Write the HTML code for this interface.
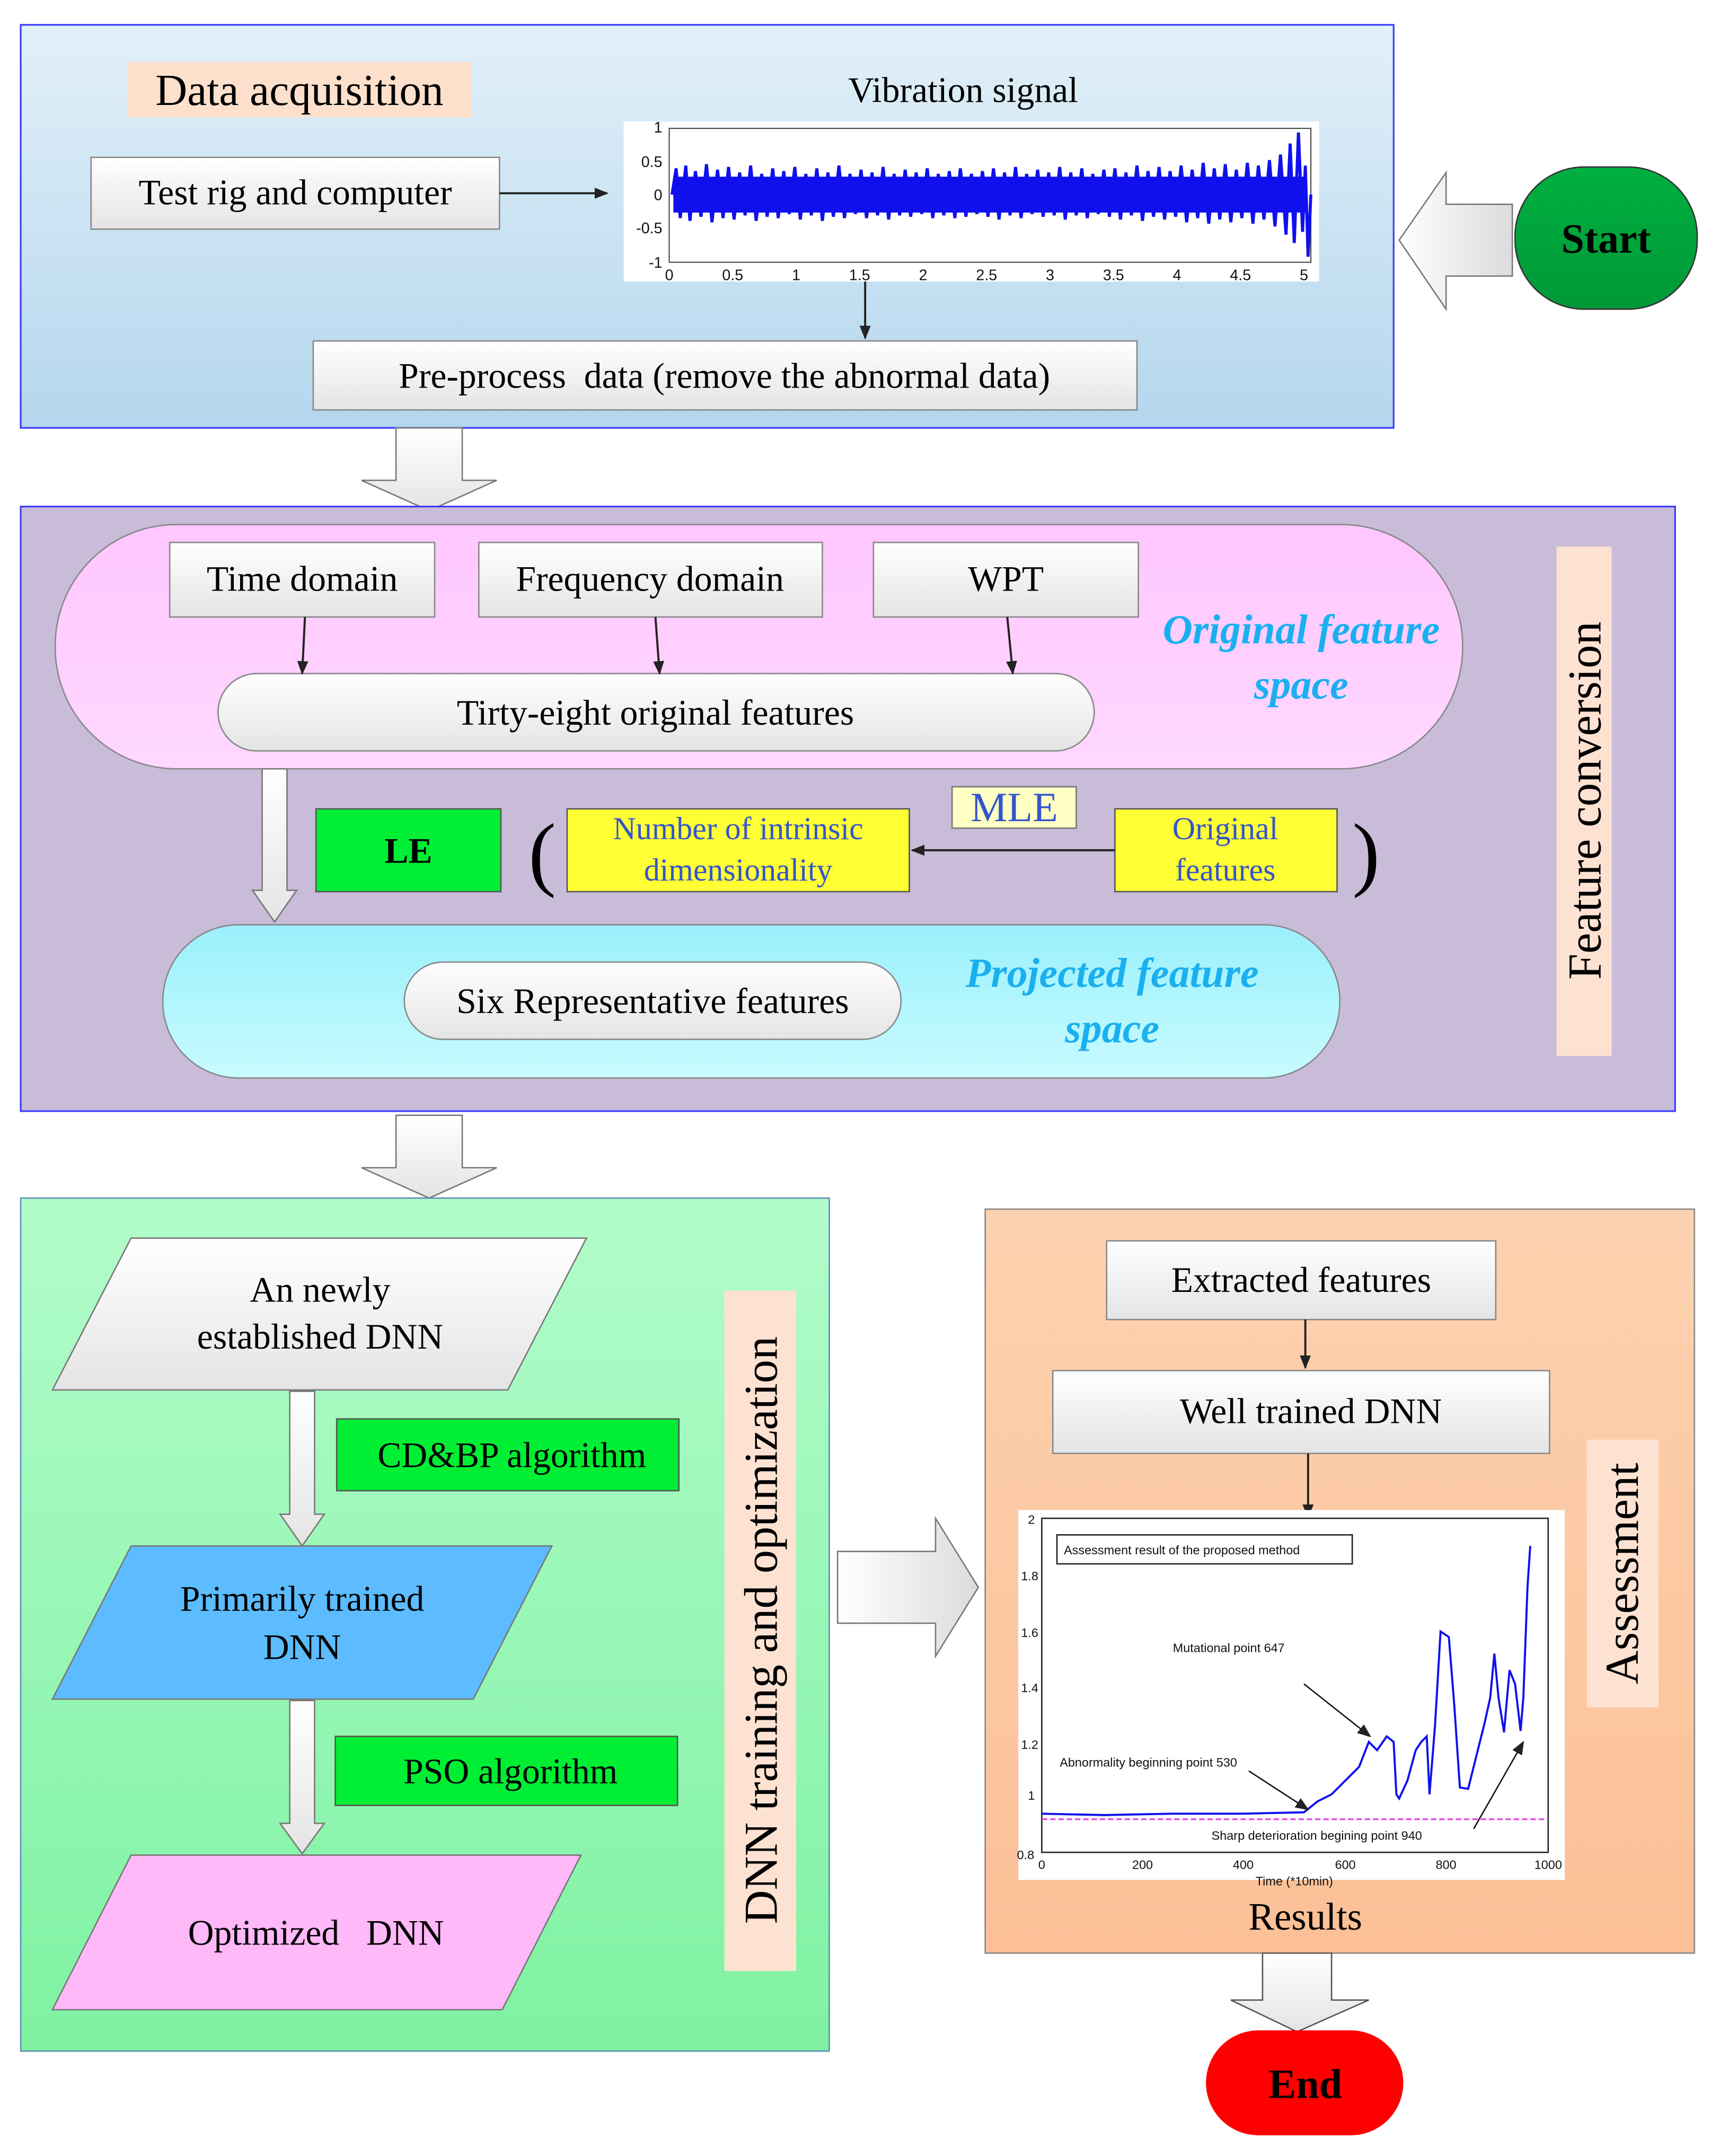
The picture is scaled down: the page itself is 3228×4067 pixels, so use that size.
<!DOCTYPE html>
<html><head><meta charset="utf-8"><style>html,body{margin:0;padding:0;background:#fff}svg{display:block}</style></head>
<body>
<svg width="3228" height="4067" viewBox="0 0 1240 1562" preserveAspectRatio="none" xmlns="http://www.w3.org/2000/svg" font-family="'Liberation Serif', serif">
<defs>
<linearGradient id="gb" x1="0" y1="0" x2="0" y2="1"><stop offset="0" stop-color="#e2f0f8"/><stop offset="1" stop-color="#b4d6ee"/></linearGradient>
<linearGradient id="gw" x1="0" y1="0" x2="0" y2="1"><stop offset="0" stop-color="#ffffff"/><stop offset="1" stop-color="#e4e4e4"/></linearGradient>
<linearGradient id="gp" x1="0" y1="0" x2="0" y2="1"><stop offset="0" stop-color="#ffc6ff"/><stop offset="1" stop-color="#ffd8ff"/></linearGradient>
<linearGradient id="gc" x1="0" y1="0" x2="0" y2="1"><stop offset="0" stop-color="#9af0fc"/><stop offset="1" stop-color="#c8fbff"/></linearGradient>
<linearGradient id="gg" x1="0" y1="0" x2="0" y2="1"><stop offset="0" stop-color="#b2fcca"/><stop offset="1" stop-color="#7ff2a2"/></linearGradient>
<linearGradient id="go" x1="0" y1="0" x2="0" y2="1"><stop offset="0" stop-color="#fdd2b0"/><stop offset="1" stop-color="#fbc096"/></linearGradient>
<linearGradient id="ga" x1="0" y1="0" x2="1" y2="0"><stop offset="0" stop-color="#ffffff"/><stop offset="1" stop-color="#dcdcdc"/></linearGradient>
<linearGradient id="gs" x1="0" y1="0" x2="0" y2="1"><stop offset="0" stop-color="#00b040"/><stop offset="1" stop-color="#009838"/></linearGradient>
<marker id="ah" markerWidth="10" markerHeight="10" refX="9" refY="5" orient="auto" markerUnits="userSpaceOnUse"><path d="M0,1 L10,5 L0,9 z" fill="#222"/></marker>
</defs>

<!-- Panel 1 -->
<rect x="15" y="18" width="995" height="292" fill="url(#gb)" stroke="#3a3aff" stroke-width="1.2"/>
<rect x="92" y="45" width="250" height="40" fill="#fde0cc"/>
<text x="217" y="76" font-size="32" text-anchor="middle">Data acquisition</text>
<rect x="66" y="114" width="296" height="52" fill="url(#gw)" stroke="#888"/>
<text x="214" y="148" font-size="26" text-anchor="middle">Test rig and computer</text>
<line x1="362" y1="140" x2="440" y2="140" stroke="#222" stroke-width="1.5" marker-end="url(#ah)"/>
<text x="698" y="74" font-size="26" text-anchor="middle">Vibration signal</text>
<rect x="452" y="88" width="504" height="116" fill="#fff"/>
<rect x="485" y="93" width="465" height="97" fill="none" stroke="#444" stroke-width="0.8"/>
<g font-family="'Liberation Sans',sans-serif" font-size="11" fill="#111">
<text x="480" y="96" text-anchor="end">1</text><text x="480" y="121" text-anchor="end">0.5</text><text x="480" y="145" text-anchor="end">0</text><text x="480" y="169" text-anchor="end">-0.5</text><text x="480" y="194" text-anchor="end">-1</text>
<text x="485" y="203" text-anchor="middle">0</text><text x="531" y="203" text-anchor="middle">0.5</text><text x="577" y="203" text-anchor="middle">1</text><text x="623" y="203" text-anchor="middle">1.5</text><text x="669" y="203" text-anchor="middle">2</text><text x="715" y="203" text-anchor="middle">2.5</text><text x="761" y="203" text-anchor="middle">3</text><text x="807" y="203" text-anchor="middle">3.5</text><text x="853" y="203" text-anchor="middle">4</text><text x="899" y="203" text-anchor="middle">4.5</text><text x="945" y="203" text-anchor="middle">5</text>
</g>
<path d="M487,141 L490,122 493,158 497,120 500,160 504,124 508,157 512,119 516,161 520,123 524,158 528,121 532,159 536,125 540,156 544,120 548,160 552,126 556,157 560,122 564,158 568,124 572,155 576,121 580,159 584,126 588,156 592,122 596,160 600,125 604,157 608,120 612,158 616,126 620,155 624,123 628,158 632,125 636,156 640,121 644,159 648,126 652,156 656,123 660,157 664,125 668,155 672,122 676,158 680,126 684,156 688,124 692,158 696,122 700,157 704,126 708,155 712,124 716,157 720,122 724,159 728,125 732,156 736,121 740,158 744,126 748,155 752,123 756,157 760,125 764,156 768,121 772,159 776,125 780,156 784,122 788,158 792,126 796,155 800,123 804,157 808,122 812,159 816,125 820,156 824,120 828,160 832,124 836,157 840,121 844,159 848,124 852,157 856,120 860,161 864,123 868,158 872,118 876,162 880,122 884,159 888,119 892,161 896,123 900,158 904,118 908,162 912,120 916,159 920,116 924,164 928,112 932,170 935,104 938,176 941,96 944,168 946,120 948,186 950,141" fill="none" stroke="#1010ee" stroke-width="2.2"/>
<rect x="488" y="128" width="458" height="26" fill="#1010ee"/>
<line x1="627" y1="204" x2="627" y2="245" stroke="#222" stroke-width="1.5" marker-end="url(#ah)"/>
<rect x="227" y="247" width="597" height="50" fill="url(#gw)" stroke="#888"/>
<text x="525" y="281" font-size="26" text-anchor="middle" xml:space="preserve">Pre-process  data (remove the abnormal data)</text>

<!-- Start -->
<rect x="1098" y="121" width="132" height="103" rx="50" fill="url(#gs)" stroke="#333"/>
<text x="1164" y="183" font-size="30" font-weight="bold" text-anchor="middle">Start</text>
<path d="M1096,148 L1048,148 L1048,125 L1014,174 L1048,224 L1048,200 L1096,200 z" fill="url(#ga)" stroke="#777"/>

<path d="M287,310 L335,310 L335,348 L360,348 L311,370 L262,348 L287,348 z" fill="url(#gw)" stroke="#777"/>

<!-- Panel 2 -->
<rect x="15" y="367" width="1199" height="438" fill="#c8bcd8" stroke="#3a3aff" stroke-width="1.2"/>
<rect x="40" y="380" width="1020" height="177" rx="88" fill="url(#gp)" stroke="#888"/>
<rect x="123" y="393" width="192" height="54" fill="url(#gw)" stroke="#888"/>
<text x="219" y="428" font-size="26" text-anchor="middle">Time domain</text>
<rect x="347" y="393" width="249" height="54" fill="url(#gw)" stroke="#888"/>
<text x="471" y="428" font-size="26" text-anchor="middle">Frequency domain</text>
<rect x="633" y="393" width="192" height="54" fill="url(#gw)" stroke="#888"/>
<text x="729" y="428" font-size="26" text-anchor="middle">WPT</text>
<rect x="158" y="488" width="635" height="56" rx="28" fill="url(#gw)" stroke="#888"/>
<text x="475" y="525" font-size="26" text-anchor="middle">Tirty-eight original features</text>
<line x1="221" y1="447" x2="219" y2="488" stroke="#222" stroke-width="1.5" marker-end="url(#ah)"/>
<line x1="475" y1="447" x2="478" y2="488" stroke="#222" stroke-width="1.5" marker-end="url(#ah)"/>
<line x1="730" y1="447" x2="734" y2="488" stroke="#222" stroke-width="1.5" marker-end="url(#ah)"/>
<rect x="1128" y="396" width="40" height="369" fill="#fde2d2"/>
<text transform="translate(1160,580) rotate(-90)" font-size="34" text-anchor="middle">Feature conversion</text>
<path d="M190,557 L208,557 L208,645 L215,645 L199,668 L183,645 L190,645 z" fill="url(#gw)" stroke="#777"/>
<rect x="229" y="586" width="134" height="60" fill="#00ee33" stroke="#555"/>
<text x="296" y="625" font-size="26" font-weight="bold" text-anchor="middle">LE</text>
<text x="393" y="638" font-size="60" text-anchor="middle">(</text>
<text x="990" y="638" font-size="60" text-anchor="middle">)</text>
<rect x="411" y="586" width="248" height="60" fill="#ffff33" stroke="#555"/>
<text x="535" y="608" font-size="23" fill="#3355cc" text-anchor="middle">Number of intrinsic</text>
<text x="535" y="638" font-size="23" fill="#3355cc" text-anchor="middle">dimensionality</text>
<rect x="690" y="570" width="90" height="30" fill="#ffffc4" stroke="#777"/>
<text x="735" y="595" font-size="30" fill="#3355cc" text-anchor="middle">MLE</text>
<rect x="808" y="586" width="161" height="60" fill="#ffff33" stroke="#555"/>
<text x="888" y="608" font-size="23" fill="#3355cc" text-anchor="middle">Original</text>
<text x="888" y="638" font-size="23" fill="#3355cc" text-anchor="middle">features</text>
<line x1="808" y1="616" x2="661" y2="616" stroke="#222" stroke-width="1.5" marker-end="url(#ah)"/>
<rect x="118" y="670" width="853" height="111" rx="55" fill="url(#gc)" stroke="#888"/>
<rect x="293" y="697" width="360" height="56" rx="28" fill="url(#gw)" stroke="#888"/>
<text x="473" y="734" font-size="26" text-anchor="middle">Six Representative features</text>
<g font-size="30" font-weight="bold" font-style="italic" fill="#1ab0f0" text-anchor="middle">
<text x="943" y="466">Original feature</text><text x="943" y="506">space</text>
<text x="806" y="715">Projected feature</text><text x="806" y="755">space</text>
</g>

<path d="M287,808 L335,808 L335,846 L360,846 L311,868 L262,846 L287,846 z" fill="url(#gw)" stroke="#777"/>

<!-- Panel 3 -->
<rect x="15" y="868" width="586" height="618" fill="url(#gg)" stroke="#5a8fb0"/>
<polygon points="38,1007 95,897 425,897 368,1007" fill="url(#gw)" stroke="#777"/>
<text x="232" y="943" font-size="26" text-anchor="middle">An newly</text>
<text x="232" y="977" font-size="26" text-anchor="middle">established DNN</text>
<path d="M210,1008 L228,1008 L228,1097 L235,1097 L219,1120 L203,1097 L210,1097 z" fill="url(#gw)" stroke="#777"/>
<rect x="244" y="1028" width="248" height="52" fill="#00ee33" stroke="#555"/>
<text x="371" y="1063" font-size="26" text-anchor="middle">CD&amp;BP algorithm</text>
<polygon points="38,1231 95,1120 400,1120 343,1231" fill="#5cbcff" stroke="#777"/>
<text x="219" y="1167" font-size="26" text-anchor="middle">Primarily trained</text>
<text x="219" y="1202" font-size="26" text-anchor="middle">DNN</text>
<path d="M210,1232 L228,1232 L228,1321 L235,1321 L219,1343 L203,1321 L210,1321 z" fill="url(#gw)" stroke="#777"/>
<rect x="243" y="1258" width="248" height="50" fill="#00ee33" stroke="#555"/>
<text x="370" y="1292" font-size="26" text-anchor="middle">PSO algorithm</text>
<polygon points="38,1456 95,1344 421,1344 364,1456" fill="#ffb8f8" stroke="#777"/>
<text x="229" y="1409" font-size="26" text-anchor="middle" xml:space="preserve">Optimized   DNN</text>
<rect x="525" y="935" width="52" height="493" fill="#fde2d2"/>
<text transform="translate(563,1181) rotate(-90)" font-size="34" text-anchor="middle">DNN training and optimization</text>

<path d="M607,1124 L678,1124 L678,1100 L709,1150 L678,1200 L678,1176 L607,1176 z" fill="url(#ga)" stroke="#777"/>

<!-- Panel 4 -->
<rect x="714" y="876" width="514" height="539" fill="url(#go)" stroke="#888"/>
<rect x="802" y="899" width="282" height="57" fill="url(#gw)" stroke="#888"/>
<text x="943" y="936" font-size="26" text-anchor="middle">Extracted features</text>
<line x1="946" y1="956" x2="946" y2="991" stroke="#222" stroke-width="1.5" marker-end="url(#ah)"/>
<rect x="763" y="993" width="360" height="60" fill="url(#gw)" stroke="#888"/>
<text x="950" y="1031" font-size="26" text-anchor="middle">Well trained DNN</text>
<line x1="948" y1="1053" x2="948" y2="1099" stroke="#222" stroke-width="1.5" marker-end="url(#ah)"/>
<rect x="1150" y="1043" width="52" height="194" fill="#fde2d2"/>
<text transform="translate(1187,1140) rotate(-90)" font-size="34" text-anchor="middle">Assessment</text>
<rect x="738" y="1094" width="396" height="268" fill="#fff"/>
<rect x="755" y="1100" width="367" height="242" fill="none" stroke="#222"/>
<rect x="766" y="1112" width="214" height="21" fill="none" stroke="#222"/>
<g font-family="'Liberation Sans',sans-serif" font-size="9" fill="#111">
<text x="771" y="1126">Assessment result of the proposed method</text>
<text x="850" y="1197">Mutational point 647</text>
<text x="768" y="1280">Abnormality beginning point 530</text>
<text x="878" y="1333">Sharp deterioration begining point 940</text>
<text x="745" y="1104">2</text><text x="740" y="1145">1.8</text><text x="740" y="1186">1.6</text><text x="740" y="1226">1.4</text><text x="740" y="1267">1.2</text><text x="745" y="1304">1</text><text x="737" y="1347">0.8</text>
<text x="755" y="1354" text-anchor="middle">0</text><text x="828" y="1354" text-anchor="middle">200</text><text x="901" y="1354" text-anchor="middle">400</text><text x="975" y="1354" text-anchor="middle">600</text><text x="1048" y="1354" text-anchor="middle">800</text><text x="1122" y="1354" text-anchor="middle">1000</text>
<text x="938" y="1366" text-anchor="middle">Time (*10min)</text>
</g>
<line x1="755" y1="1318" x2="1122" y2="1318" stroke="#e040e0" stroke-width="1.2" stroke-dasharray="4,2"/>
<polyline points="755,1314 800,1315 850,1314 900,1314 945,1313 955,1305 965,1300 975,1290 985,1280 992,1262 998,1268 1005,1258 1010,1262 1012,1300 1014,1303 1020,1290 1026,1268 1030,1262 1034,1258 1036,1300 1040,1250 1044,1182 1050,1186 1054,1236 1058,1295 1064,1296 1070,1272 1076,1248 1080,1230 1083,1198 1086,1230 1090,1255 1094,1210 1098,1220 1102,1254 1104,1230 1107,1150 1109,1120" fill="none" stroke="#1010ee" stroke-width="1.5"/>
<line x1="945" y1="1220" x2="993" y2="1258" stroke="#111" stroke-width="1" marker-end="url(#ah)"/>
<line x1="905" y1="1283" x2="948" y2="1311" stroke="#111" stroke-width="1" marker-end="url(#ah)"/>
<line x1="1068" y1="1325" x2="1104" y2="1262" stroke="#111" stroke-width="1" marker-end="url(#ah)"/>
<text x="946" y="1398" font-size="28" text-anchor="middle">Results</text>

<path d="M915,1415 L965,1415 L965,1449 L992,1449 L940,1472 L892,1449 L915,1449 z" fill="url(#gw)" stroke="#555"/>
<rect x="874" y="1471" width="143" height="76" rx="38" fill="#ff0000"/>
<text x="946" y="1520" font-size="30" font-weight="bold" text-anchor="middle">End</text>
</svg>
</body></html>
